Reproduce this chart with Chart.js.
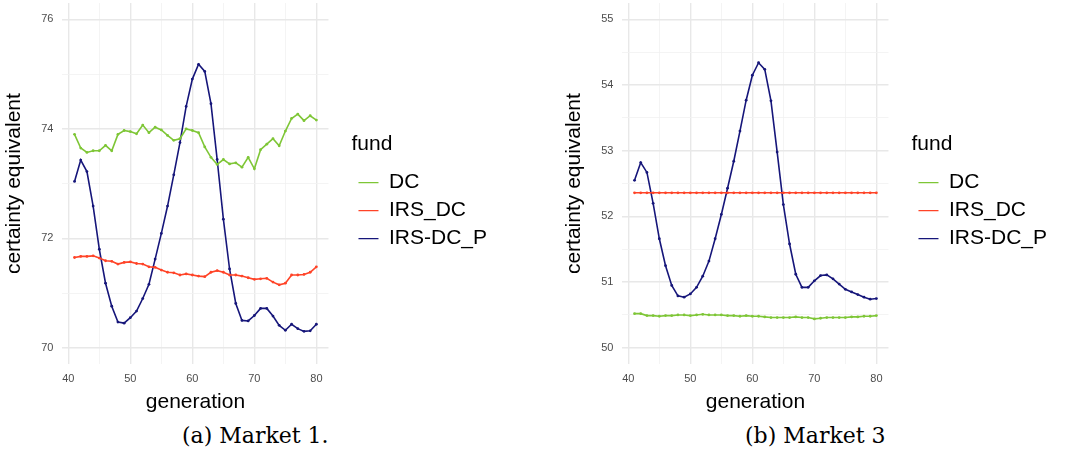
<!DOCTYPE html>
<html>
<head>
<meta charset="utf-8">
<script src="https://cdn.jsdelivr.net/npm/chart.js@4.4.0/dist/chart.umd.min.js"></script>
<style>
  body { margin: 0; background: #fff; width: 1065px; height: 459px; position: relative; overflow: hidden; }
  .panel { position: absolute; top: 0; width: 505px; height: 418px; }
  .caption { position: absolute; top: 423px; font-family: 'DejaVu Serif', serif; font-size: 22px; color: #000; white-space: nowrap; }
</style>
</head>
<body>
<div class="panel" style="left:0"><canvas id="market1" width="505" height="418"></canvas></div>
<div class="panel" style="left:560px"><canvas id="market3" width="505" height="418"></canvas></div>
<div class="caption" style="left:182px">(a) Market 1.</div>
<div class="caption" style="left:745px">(b) Market 3</div>
<script>
const generations = [41, 42, 43, 44, 45, 46, 47, 48, 49, 50, 51, 52, 53, 54, 55, 56, 57, 58, 59, 60,
                     61, 62, 63, 64, 65, 66, 67, 68, 69, 70, 71, 72, 73, 74, 75, 76, 77, 78, 79, 80];
const fundNames = ['DC', 'IRS_DC', 'IRS-DC_P'];
const fundColors = ['#7ec636', '#ff4327', '#16167a'];

// Market 1
const m1DC = [73.90, 73.65, 73.57, 73.60, 73.60, 73.70, 73.60, 73.90, 73.97, 73.95,
              73.91, 74.07, 73.93, 74.03, 73.98, 73.88, 73.79, 73.82, 74.00, 73.97,
              73.93, 73.67, 73.48, 73.35, 73.44, 73.36, 73.38, 73.30, 73.48, 73.27,
              73.62, 73.72, 73.82, 73.69, 73.96, 74.19, 74.27, 74.15, 74.24, 74.16];
const m1IRS = [71.65, 71.67, 71.67, 71.68, 71.64, 71.59, 71.58, 71.53, 71.56, 71.57,
               71.54, 71.53, 71.48, 71.47, 71.42, 71.38, 71.37, 71.33, 71.35, 71.33,
               71.31, 71.30, 71.38, 71.41, 71.38, 71.33, 71.33, 71.31, 71.28, 71.25,
               71.26, 71.27, 71.20, 71.15, 71.18, 71.33, 71.33, 71.34, 71.38, 71.48];
const m1IRSP = [73.04, 73.43, 73.22, 72.59, 71.80, 71.18, 70.76, 70.47, 70.45, 70.55,
                70.67, 70.90, 71.16, 71.62, 72.09, 72.59, 73.16, 73.75, 74.41, 74.91,
                75.18, 75.05, 74.46, 73.44, 72.35, 71.44, 70.81, 70.50, 70.49, 70.59,
                70.72, 70.72, 70.58, 70.41, 70.32, 70.43, 70.35, 70.30, 70.31, 70.43];

// Market 3
const m3DC = [50.52, 50.52, 50.49, 50.49, 50.48, 50.49, 50.49, 50.50, 50.50, 50.49,
              50.50, 50.51, 50.50, 50.50, 50.50, 50.49, 50.49, 50.48, 50.49, 50.48,
              50.48, 50.47, 50.46, 50.46, 50.46, 50.46, 50.47, 50.46, 50.46, 50.44,
              50.45, 50.46, 50.46, 50.46, 50.46, 50.47, 50.47, 50.48, 50.48, 50.49];
const m3IRS = [52.36, 52.36, 52.36, 52.36, 52.36, 52.36, 52.36, 52.36, 52.36, 52.36,
               52.36, 52.36, 52.36, 52.36, 52.36, 52.36, 52.36, 52.36, 52.36, 52.36,
               52.36, 52.36, 52.36, 52.36, 52.36, 52.36, 52.36, 52.36, 52.36, 52.36,
               52.36, 52.36, 52.36, 52.36, 52.36, 52.36, 52.36, 52.36, 52.36, 52.36];
const m3IRSP = [52.55, 52.82, 52.67, 52.20, 51.66, 51.25, 50.95, 50.79, 50.77, 50.82,
                50.92, 51.09, 51.32, 51.66, 52.03, 52.43, 52.84, 53.30, 53.77, 54.15,
                54.34, 54.24, 53.76, 52.98, 52.18, 51.58, 51.12, 50.92, 50.92, 51.02,
                51.10, 51.11, 51.05, 50.97, 50.89, 50.85, 50.81, 50.77, 50.74, 50.75];

const xTicks = [40, 45, 50, 55, 60, 65, 70, 75, 80];
const xLabels = [40, 50, 60, 70, 80];
const m1YTicks = [70, 71, 72, 73, 74, 75, 76];
const m1YLabels = [70, 72, 74, 76];
const m3YTicks = [50, 50.5, 51, 51.5, 52, 52.5, 53, 53.5, 54, 54.5, 55];
const m3YLabels = [50, 51, 52, 53, 54, 55];

Chart.defaults.font.family = "'Liberation Sans', Arial, sans-serif";
Chart.defaults.animation = false;

// push the legend a bit away from the plot panel (ggplot leaves a gap there)
const legendGap = {
    id: 'legendGap',
    afterLayout(chart) {
        chart.legend.left += 23;
        chart.legend.right += 23;
    }
};

// no extra room around the panel for tick labels, the layout is fixed
function noScalePadding(scale) {
    scale.paddingTop = 0;
    scale.paddingBottom = 0;
    scale.paddingLeft = 0;
    scale.paddingRight = 0;
}

function series(values) {
    return generations.map((g, i) => ({x: g, y: values[i]}));
}

function makeDatasets(arrays) {
    return arrays.map((arr, i) => ({
        label: fundNames[i],
        data: series(arr),
        borderColor: fundColors[i],
        backgroundColor: fundColors[i],
        borderWidth: 1.6,
        pointRadius: 1.4,
        pointHoverRadius: 2,
        pointBorderWidth: 0,
        tension: 0,
    }));
}

function gridStyle(labels) {
    return {
        color: ctx => labels.includes(ctx.tick.value) ? '#e8e8e8' : '#f1f1f1',
        lineWidth: ctx => labels.includes(ctx.tick.value) ? 1.4 : 0.8,
        drawTicks: false,
        tickLength: 0,
    };
}

function makeChart(id, arrays, yMin, yMax, yTicks, yLabels) {
    new Chart(document.getElementById(id), {
        type: 'line',
        data: {datasets: makeDatasets(arrays)},
        plugins: [legendGap],
        options: {
            responsive: false,
            devicePixelRatio: 1,
            layout: {autoPadding: false, padding: {top: 3, right: 31, bottom: 0, left: 0}},
            scales: {
                x: {
                    type: 'linear',
                    min: 39.05,
                    max: 81.95,
                    afterBuildTicks: axis => { axis.ticks = xTicks.map(v => ({value: v})); },
                    afterFit: noScalePadding,
                    grid: gridStyle(xLabels),
                    border: {display: false},
                    ticks: {
                        autoSkip: false,
                        maxRotation: 0,
                        padding: 8,
                        color: '#4d4d4d',
                        font: {size: 11},
                        callback: v => xLabels.includes(v) ? v : '',
                    },
                    title: {
                        display: true,
                        text: 'generation',
                        color: '#000',
                        font: {size: 21},
                        padding: {top: -3.6, bottom: 3},
                    },
                },
                y: {
                    type: 'linear',
                    min: yMin,
                    max: yMax,
                    afterBuildTicks: axis => { axis.ticks = yTicks.map(v => ({value: v})); },
                    afterFit: noScalePadding,
                    grid: gridStyle(yLabels),
                    border: {display: false},
                    ticks: {
                        autoSkip: false,
                        padding: 9,
                        color: '#4d4d4d',
                        font: {size: 11},
                        callback: v => yLabels.includes(v) ? v : '',
                    },
                    title: {
                        display: true,
                        text: 'certainty equivalent',
                        color: '#000',
                        font: {size: 21},
                        padding: {top: 2, bottom: 5},
                    },
                },
            },
            plugins: {
                legend: {
                    position: 'right',
                    align: 'start',
                    maxWidth: 220,
                    title: {
                        display: true,
                        text: 'fund',
                        position: 'start',
                        color: '#000',
                        font: {size: 21},
                        padding: {top: 131, bottom: 6},
                    },
                    labels: {
                        usePointStyle: true,
                        pointStyle: 'line',
                        pointStyleWidth: 20,
                        color: '#000',
                        font: {size: 21},
                        padding: 7,
                        generateLabels: chart =>
                            Chart.defaults.plugins.legend.labels.generateLabels(chart)
                                .map(item => Object.assign(item, {lineWidth: 1.3})),
                    },
                },
                tooltip: {enabled: false},
            },
        },
    });
}

makeChart('market1', [m1DC, m1IRS, m1IRSP], 69.7, 76.3, m1YTicks, m1YLabels);
makeChart('market3', [m3DC, m3IRS, m3IRSP], 49.75, 55.25, m3YTicks, m3YLabels);
</script>
</body>
</html>
